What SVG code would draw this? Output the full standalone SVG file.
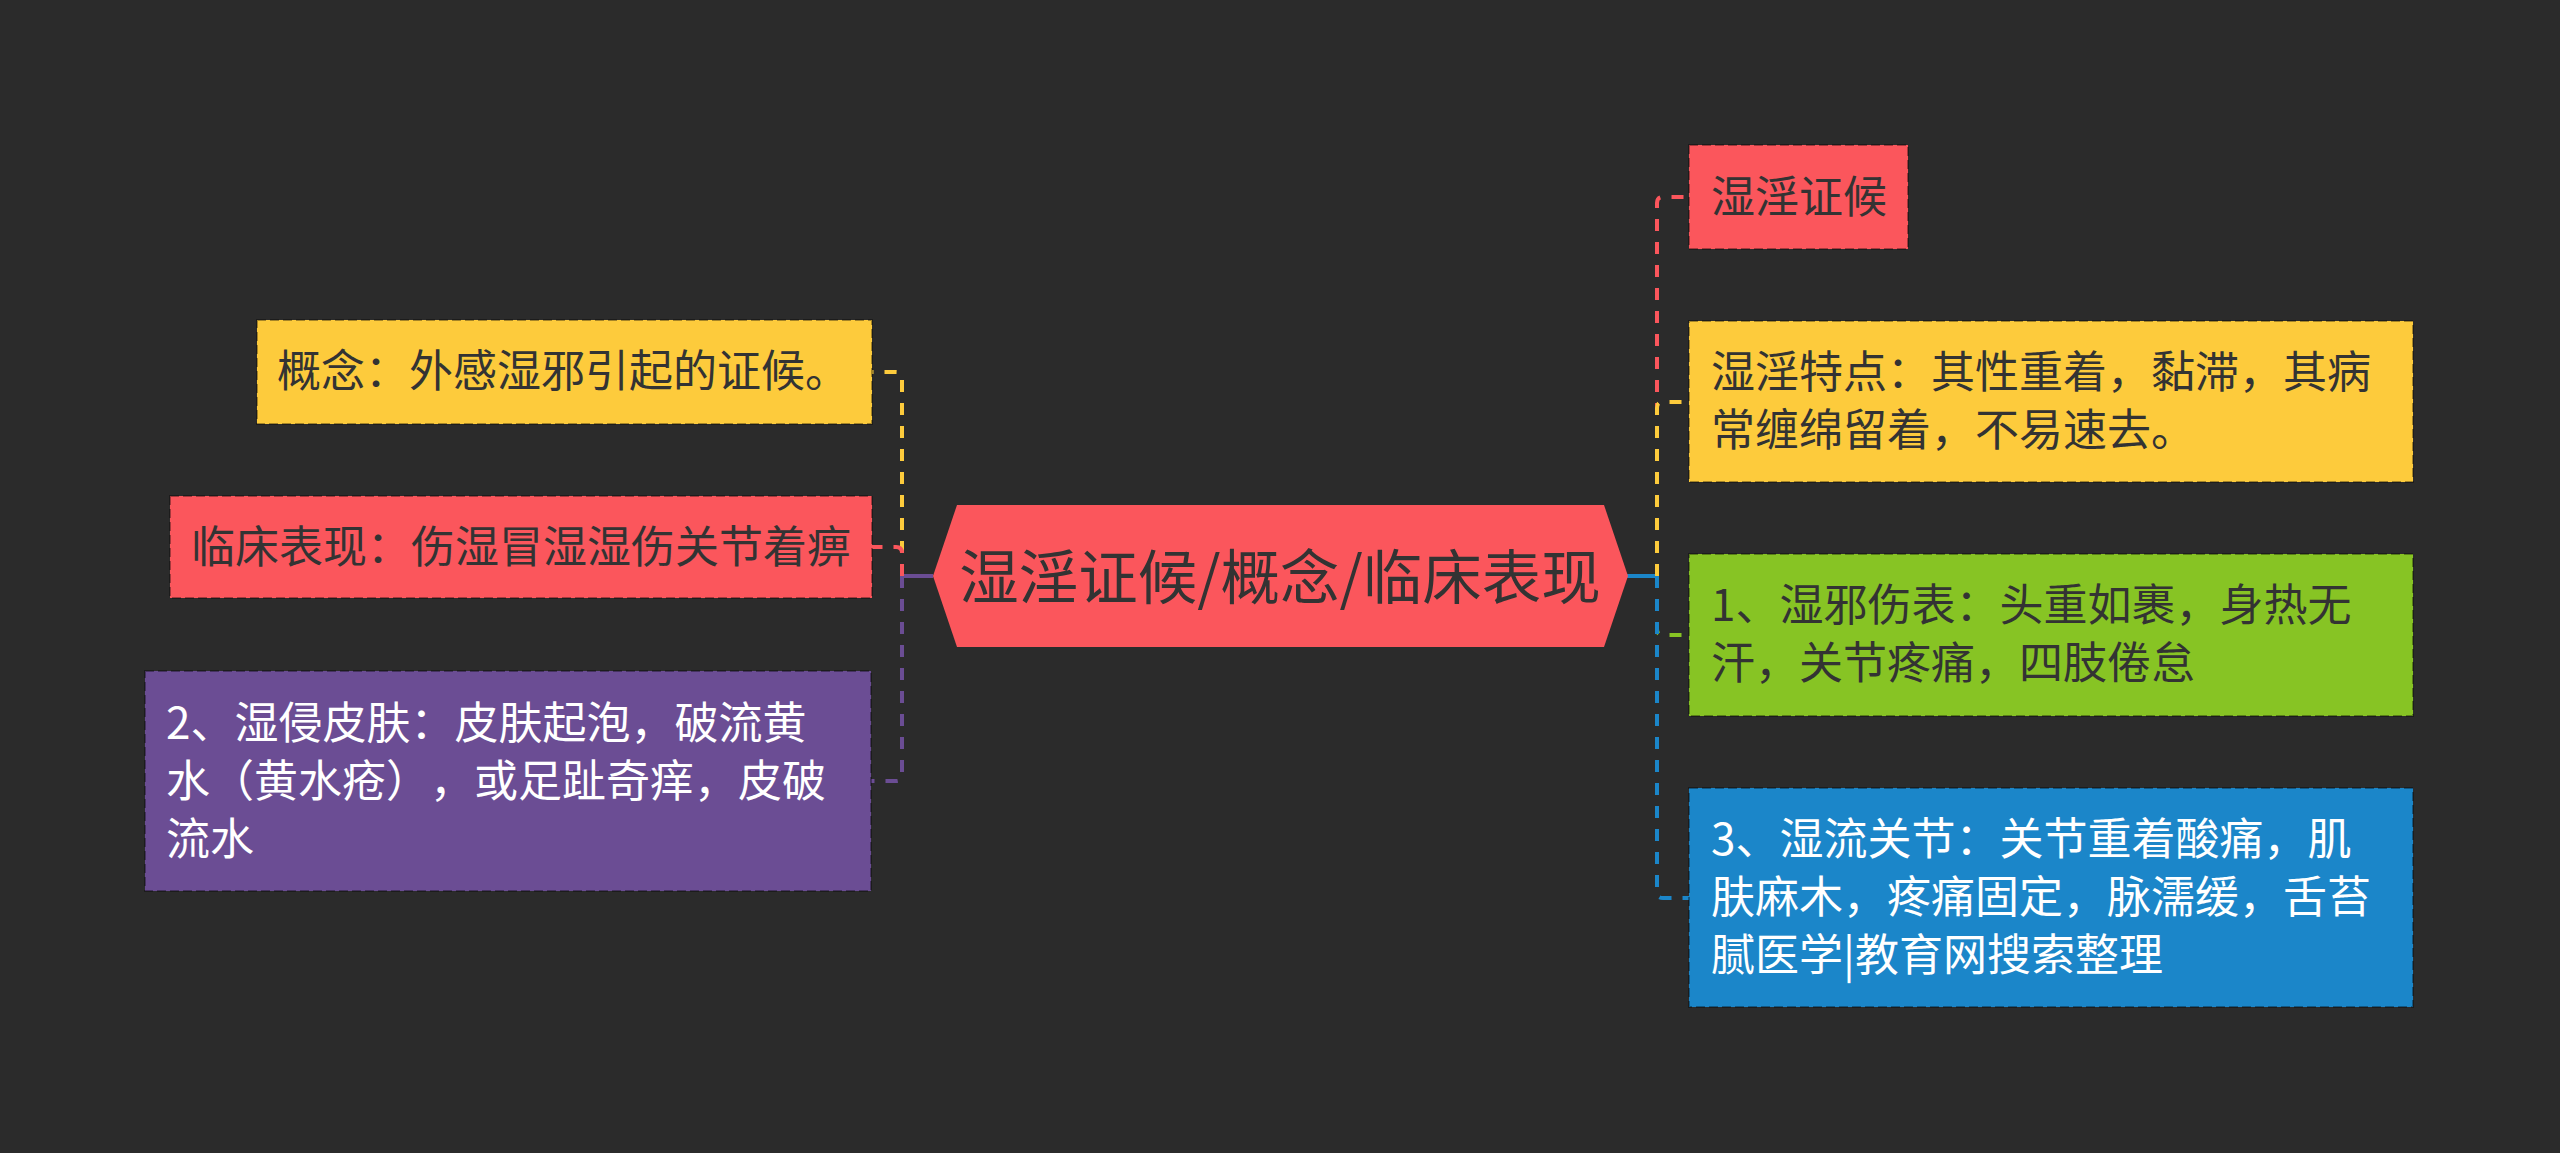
<svg xmlns="http://www.w3.org/2000/svg" width="2560" height="1153" viewBox="0 0 2560 1153">
<style>
.t{font-family:"Noto Sans CJK SC","Noto Sans",sans-serif;font-size:44px;text-spacing-trim:space-all;}
.d{fill:#333333;}
.w{fill:#ffffff;}
.box{stroke:rgba(0,0,0,0.35);stroke-width:2;stroke-dasharray:9 4;}
.c{fill:none;stroke-width:4;stroke-dasharray:12 11;}
</style>
<rect width="2560" height="1153" fill="#2b2b2b"/>
<g id="connectors">
<path d="M933,576 H902" stroke="#6B4D94" stroke-width="4" fill="none"/>
<path class="c" stroke="#FDCB3C" d="M902,576 V378 Q902,372 896,372 H872"/>
<path class="c" stroke="#FB565C" d="M902,576 V553 Q902,547 896,547 H872"/>
<path class="c" stroke="#6B4D94" d="M902,576 V775 Q902,781 896,781 H871"/>
<path d="M1627,576 H1657" stroke="#1B86C9" stroke-width="4" fill="none"/>
<path class="c" stroke="#FB565C" d="M1657,576 V203 Q1657,197 1663,197 H1689"/>
<path class="c" stroke="#FDCB3C" d="M1657,576 V408 Q1657,402 1663,402 H1689"/>
<path class="c" stroke="#87C424" d="M1657,576 V629 Q1657,635 1663,635 H1689"/>
<path class="c" stroke="#1B86C9" d="M1657,576 V892 Q1657,898 1663,898 H1689"/>
</g>
<g id="center">
<polygon points="957,505 1604,505 1628,576 1604,647 957,647 933,576" fill="#FB565C"/>
<text class="t d" x="1280" y="599" text-anchor="middle" style="font-size:59.5px">湿淫证候/概念/临床表现</text>
</g>
<g id="n-gainian">
<rect class="box" x="257" y="320" width="615" height="104" fill="#FDCB3C"/>
<text class="t d" x="277" y="387">概念：外感湿邪引起的证候。</text>
</g>
<g id="n-linchuang">
<rect class="box" x="170" y="496" width="702" height="102" fill="#FB565C"/>
<text class="t d" x="191" y="563">临床表现：伤湿冒湿湿伤关节着痹</text>
</g>
<g id="n-shiqin">
<rect class="box" x="145" y="671" width="726" height="220" fill="#6B4D94"/>
<text class="t w" x="166" y="739">2、湿侵皮肤：皮肤起泡，破流黄</text>
<text class="t w" x="166" y="797">水（黄水疮），或足趾奇痒，皮破</text>
<text class="t w" x="166" y="855">流水</text>
</g>
<g id="n-shiyin">
<rect class="box" x="1689" y="145" width="219" height="104" fill="#FB565C"/>
<text class="t d" x="1711" y="213">湿淫证候</text>
</g>
<g id="n-tedian">
<rect class="box" x="1689" y="321" width="724" height="161" fill="#FDCB3C"/>
<text class="t d" x="1711" y="388">湿淫特点：其性重着，黏滞，其病</text>
<text class="t d" x="1711" y="446">常缠绵留着，不易速去。</text>
</g>
<g id="n-shangbiao">
<rect class="box" x="1689" y="554" width="724" height="162" fill="#87C424"/>
<text class="t d" x="1711" y="621">1、湿邪伤表：头重如裹，身热无</text>
<text class="t d" x="1711" y="679">汗，关节疼痛，四肢倦怠</text>
</g>
<g id="n-guanjie">
<rect class="box" x="1689" y="788" width="724" height="219" fill="#1B86C9"/>
<text class="t w" x="1711" y="855">3、湿流关节：关节重着酸痛，肌</text>
<text class="t w" x="1711" y="913">肤麻木，疼痛固定，脉濡缓，舌苔</text>
<text class="t w" x="1711" y="971">腻医学|教育网搜索整理</text>
</g>
</svg>
